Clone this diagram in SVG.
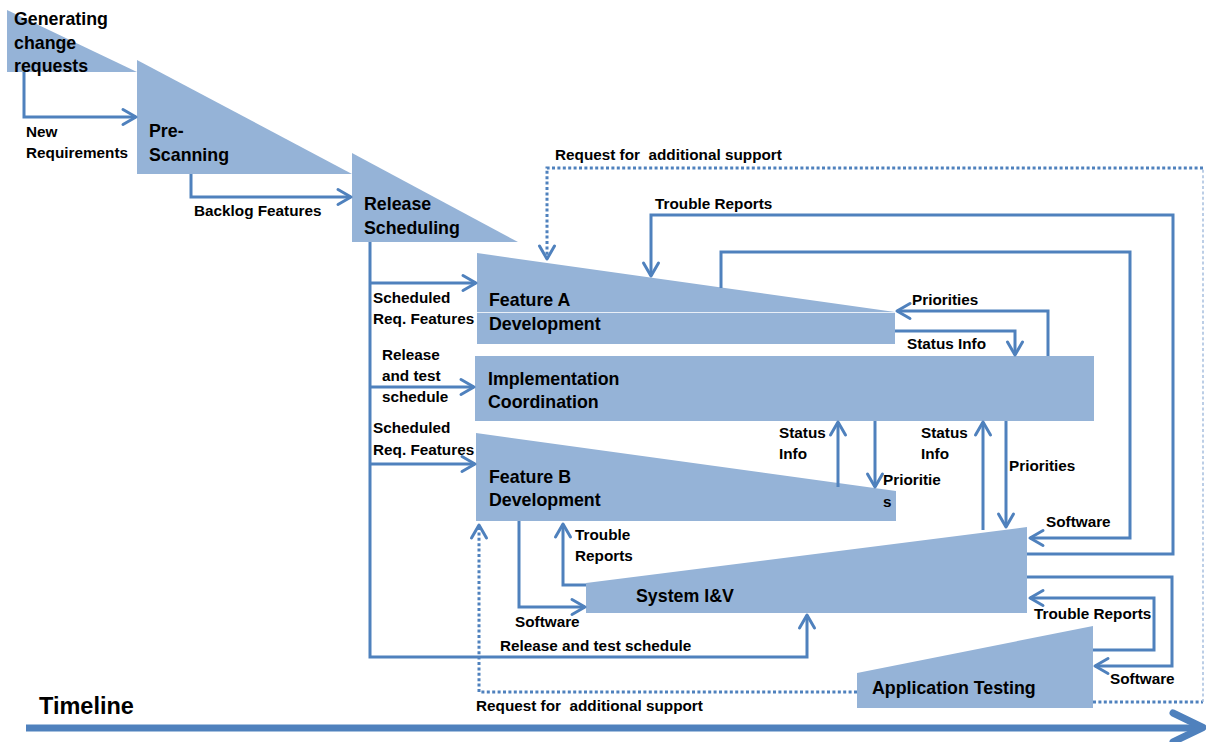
<svg xmlns="http://www.w3.org/2000/svg" width="1206" height="742" viewBox="0 0 1206 742">
<style>
.n{fill:#95B3D7;stroke:none}
text{font-family:"Liberation Sans",Arial,sans-serif;font-weight:bold;fill:#000}
.b{font-size:17.8px}
.s{font-size:15.3px;white-space:pre}
.c{fill:none;stroke:#4F81BD;stroke-width:3;stroke-linejoin:miter}
.a{marker-end:url(#ah)}
.d{fill:none;stroke:#4F81BD;stroke-width:3;stroke-dasharray:3 2.4}
.dl{fill:none;stroke:#A7BFDE;stroke-width:1.5;stroke-dasharray:3 2.4}
</style>
<defs>
<marker id="ah" viewBox="-16 -10 20 20" markerWidth="20" markerHeight="20" refX="0" refY="0" orient="auto" markerUnits="userSpaceOnUse">
<path d="M-13,-7.5 L0,0 L-13,7.5" fill="none" stroke="#4F81BD" stroke-width="3" stroke-linecap="round" stroke-linejoin="round"/>
</marker>
</defs>
<rect width="1206" height="742" fill="#fff"/>

<g id="gen">
<polygon class="n" points="7,10 137,72 7,72"/>
<text class="b" x="14" y="25">Generating</text>
<text class="b" x="14" y="48.5">change</text>
<text class="b" x="14" y="72">requests</text>
</g>
<g id="prescan">
<polygon class="n" points="137,60 352,174 137,174"/>
<text class="b" x="149" y="137">Pre-</text>
<text class="b" x="149" y="161">Scanning</text>
</g>
<g id="release">
<polygon class="n" points="352,153 518,242 352,242"/>
<text class="b" x="364" y="210">Release</text>
<text class="b" x="364" y="234">Scheduling</text>
</g>
<g id="featA">
<polygon class="n" points="477,253 895,312 895,344 477,344"/>
<line x1="477" y1="312.5" x2="895" y2="312.5" stroke="#fff" stroke-width="1" opacity="0.8"/>
<text class="b" x="489" y="306">Feature A</text>
<text class="b" x="489" y="330">Development</text>
</g>
<g id="impl">
<rect class="n" x="475" y="356" width="619" height="65"/>
<text class="b" x="488" y="385">Implementation</text>
<text class="b" x="488" y="408">Coordination</text>
</g>
<g id="featB">
<polygon class="n" points="476,433 896,491 896,521 476,521"/>
<text class="b" x="489" y="483">Feature B</text>
<text class="b" x="489" y="506">Development</text>
</g>
<g id="sysiv">
<polygon class="n" points="586,583 1027,527 1027,613 586,613"/>
<text class="b" x="636" y="602">System I&amp;V</text>
</g>
<g id="apptest">
<polygon class="n" points="857,673 1093,626 1093,708 857,708"/>
<text class="b" x="872" y="694">Application Testing</text>
</g>

<g id="connectors">
<path class="c a" d="M24,72 V117 H136"/>
<path class="c a" d="M191,174 V197 H351"/>
<path class="c a" d="M370,242 V657 H807 V615"/>
<path class="c a" d="M370,283 H476"/>
<path class="c a" d="M370,387 H474"/>
<path class="c a" d="M370,464 H475"/>
<path class="d" d="M1093,702 H1203"/>
<path class="dl" d="M1203,702 V168"/>
<path class="d a" d="M1203,168 H547 V259"/>
<path class="d a" d="M857,692 H479 V525"/>
<path class="c a" d="M1027,554 H1173 V215 H651 V276"/>
<path class="c a" d="M721,288 V252 H1130 V538 H1030"/>
<path class="c a" d="M1048,356 V311 H897"/>
<path class="c a" d="M895,331 H1015 V355"/>
<path class="c a" d="M838,487 V422"/>
<path class="c a" d="M875,421 V487"/>
<path class="c a" d="M983,530 V422"/>
<path class="c a" d="M1006,421 V527"/>
<path class="c a" d="M1027,577 H1172 V666 H1095"/>
<path class="c a" d="M1093,650 H1154 V598 H1030"/>
<path class="c a" d="M586,585 H563 V524"/>
<path class="c a" d="M519,521 V607 H585"/>
</g>

<g id="labels">
<text class="s" x="26" y="137">New</text>
<text class="s" x="26" y="158">Requirements</text>
<text class="s" x="194" y="216">Backlog Features</text>
<text class="s" x="555" y="160">Request for  additional support</text>
<text class="s" x="655" y="209">Trouble Reports</text>
<text class="s" x="373" y="303">Scheduled</text>
<text class="s" x="373" y="324">Req. Features</text>
<text class="s" x="382" y="360">Release</text>
<text class="s" x="382" y="381">and test</text>
<text class="s" x="382" y="402">schedule</text>
<text class="s" x="373" y="433">Scheduled</text>
<text class="s" x="373" y="455">Req. Features</text>
<text class="s" x="912" y="305">Priorities</text>
<text class="s" x="907" y="349">Status Info</text>
<text class="s" x="779" y="438">Status</text>
<text class="s" x="779" y="459">Info</text>
<text class="s" x="883" y="485">Prioritie</text>
<text class="s" x="883" y="507">s</text>
<text class="s" x="921" y="438">Status</text>
<text class="s" x="921" y="459">Info</text>
<text class="s" x="1009" y="471">Priorities</text>
<text class="s" x="1046" y="527">Software</text>
<text class="s" x="575" y="540">Trouble</text>
<text class="s" x="575" y="561">Reports</text>
<text class="s" x="515" y="627">Software</text>
<text class="s" x="500" y="651">Release and test schedule</text>
<text class="s" x="1034" y="619">Trouble Reports</text>
<text class="s" x="1110" y="684">Software</text>
<text class="s" x="476" y="711">Request for  additional support</text>
</g>

<g id="timeline">
<path d="M26,728 H1198" fill="none" stroke="#4F81BD" stroke-width="7"/>
<path d="M1173,713 L1203,727.5 L1173,742" fill="none" stroke="#4F81BD" stroke-width="7" stroke-linejoin="round" stroke-linecap="round"/>
<text x="39" y="714" style="font-size:23.5px">Timeline</text>
</g>
</svg>
